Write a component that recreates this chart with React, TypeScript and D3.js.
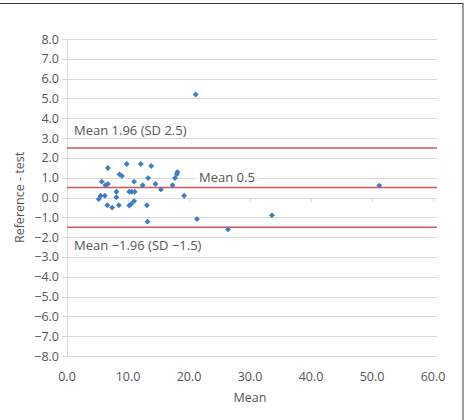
import React, { useRef, useEffect } from 'react';
import * as d3 from 'd3';

// Bland–Altman points: mean of the two methods vs. difference (reference - test)
const means = [
  21.1, 6.7, 9.8, 12.1, 13.8, 8.6, 9.0, 18.1, 18.0, 17.7, 13.3, 5.7, 6.7, 6.3, 11.0, 12.4,
  14.5, 15.4, 17.3, 8.1, 10.2, 10.6, 11.1, 5.5, 6.2, 5.2, 8.1, 11.0, 19.2, 6.6, 7.4, 8.5,
  10.2, 10.5, 13.1, 13.2, 21.3, 26.4, 33.6, 51.2,
];
const diffs = [
  5.2, 1.49, 1.69, 1.69, 1.59, 1.17, 1.09, 1.29, 1.17, 0.98, 0.98, 0.8, 0.68, 0.62, 0.8, 0.62,
  0.68, 0.41, 0.62, 0.29, 0.29, 0.29, 0.29, 0.09, 0.09, -0.08, 0.01, -0.18, 0.09, -0.39, -0.51, -0.39,
  -0.41, -0.33, -0.39, -1.22, -1.09, -1.61, -0.9, 0.6,
];

const meanDiff = 0.5;
const upperLimit = 2.5;
const lowerLimit = -1.5;

const xTicks = [0, 10, 20, 30, 40, 50, 60];
const yTicks = d3.range(-8, 9, 1);

const App: React.FC = () => {
  const svgRef = useRef<SVGSVGElement | null>(null);

  useEffect(() => {
    if (!svgRef.current) return;
    const svg = d3.select(svgRef.current);
    svg.selectAll('*').remove();

    const font = '"Open Sans", sans-serif';
    const textColor = '#555';
    const gridColor = '#d9d9d9';

    const x = d3.scaleLinear().domain([0, 60]).range([67, 433]);
    const y = d3.scaleLinear().domain([-8, 8]).range([356, 39]);

    // outer frame
    svg.append('rect')
      .attr('x', -1).attr('y', 3.5)
      .attr('width', 464).attr('height', 420)
      .attr('fill', 'none').attr('stroke', '#3a3a3a').attr('stroke-width', 1);

    // horizontal gridlines
    svg.append('g')
      .selectAll('line')
      .data(yTicks)
      .join('line')
      .attr('x1', x(0)).attr('x2', x(60) + 4)
      .attr('y1', d => Math.round(y(d)) + 0.5).attr('y2', d => Math.round(y(d)) + 0.5)
      .attr('stroke', gridColor).attr('stroke-width', 1);

    // y axis line and ticks
    svg.append('line')
      .attr('x1', x(0) + 0.5).attr('x2', x(0) + 0.5)
      .attr('y1', y(8)).attr('y2', y(-8))
      .attr('stroke', gridColor);
    svg.append('g')
      .selectAll('line')
      .data(yTicks)
      .join('line')
      .attr('x1', x(0) - 5).attr('x2', x(0))
      .attr('y1', d => Math.round(y(d)) + 0.5).attr('y2', d => Math.round(y(d)) + 0.5)
      .attr('stroke', gridColor);

    // x ticks on the zero line
    svg.append('g')
      .selectAll('line')
      .data(xTicks)
      .join('line')
      .attr('x1', d => Math.round(x(d)) + 0.5).attr('x2', d => Math.round(x(d)) + 0.5)
      .attr('y1', Math.round(y(0))).attr('y2', Math.round(y(0)) + 4)
      .attr('stroke', gridColor);

    const fmt = (v: number) => (v < 0 ? '\u2212' + Math.abs(v).toFixed(1) : v.toFixed(1));

    svg.append('g')
      .selectAll('text')
      .data(yTicks)
      .join('text')
      .attr('x', 59).attr('y', d => y(d) + 4.5)
      .attr('text-anchor', 'end')
      .attr('font-family', font).attr('font-size', 12.5).attr('fill', textColor)
      .text(d => fmt(d));

    svg.append('g')
      .selectAll('text')
      .data(xTicks)
      .join('text')
      .attr('x', d => x(d)).attr('y', 381)
      .attr('text-anchor', 'middle')
      .attr('font-family', font).attr('font-size', 12.5).attr('fill', textColor)
      .text(d => fmt(d));

    // axis titles
    svg.append('text')
      .attr('x', 250).attr('y', 402)
      .attr('text-anchor', 'middle')
      .attr('font-family', font).attr('font-size', 12.5).attr('fill', textColor)
      .text('Mean');
    svg.append('text')
      .attr('transform', `translate(24,${y(0)}) rotate(-90)`)
      .attr('text-anchor', 'middle')
      .attr('font-family', font).attr('font-size', 12.5).attr('fill', textColor)
      .text('Reference - test');

    // mean and limits of agreement
    svg.append('g')
      .selectAll('line')
      .data([upperLimit, meanDiff, lowerLimit])
      .join('line')
      .attr('x1', x(0)).attr('x2', x(60) + 4)
      .attr('y1', d => y(d)).attr('y2', d => y(d))
      .attr('stroke', '#d0585a').attr('stroke-width', 1.5);

    // line labels
    svg.append('text')
      .attr('x', 74).attr('y', 135)
      .attr('font-family', font).attr('font-size', 13).attr('fill', textColor)
      .text(`Mean 1.96 (SD ${upperLimit})`);
    const midLabel = svg.append('text')
      .attr('x', 199).attr('y', 182)
      .attr('font-family', font).attr('font-size', 13).attr('fill', textColor)
      .text(`Mean ${meanDiff}`);
    const bb = (midLabel.node() as SVGTextElement).getBBox();
    svg.insert('rect', () => midLabel.node() as SVGTextElement)
      .attr('x', bb.x - 3).attr('y', bb.y + 2)
      .attr('width', bb.width + 6).attr('height', bb.height - 4)
      .attr('fill', '#fff');
    svg.append('text')
      .attr('x', 74).attr('y', 250)
      .attr('font-family', font).attr('font-size', 13).attr('fill', textColor)
      .text(`Mean \u22121.96 (SD \u2212${Math.abs(lowerLimit)})`);

    // diamond markers
    const diamond = d3.symbol().type(d3.symbolDiamond2).size(22);
    svg.append('g')
      .selectAll('path')
      .data(means.map((m, i) => ({ m, d: diffs[i] })))
      .join('path')
      .attr('transform', p => `translate(${x(p.m)},${y(p.d)})`)
      .attr('d', diamond)
      .attr('fill', '#3d7fc0');
  }, []);

  return (
    <svg
      ref={svgRef}
      width={467}
      height={420}
      style={{ position: 'absolute', left: 0, top: 0, background: '#fff' }}
    />
  );
};

export default App;
